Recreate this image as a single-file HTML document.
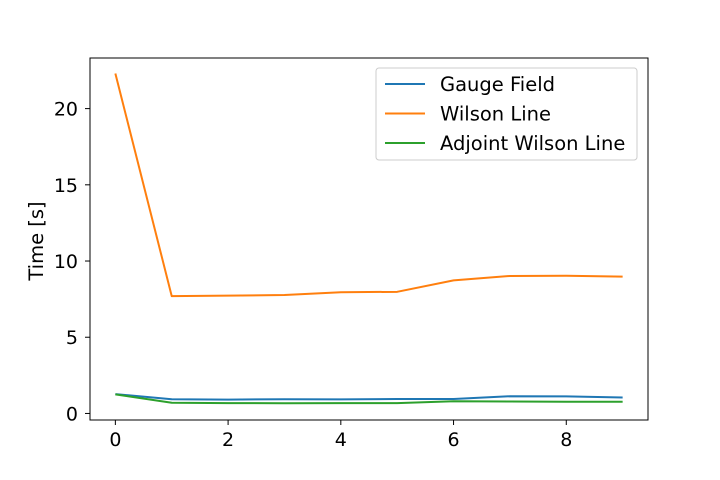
<!DOCTYPE html>
<html><head><meta charset="utf-8"><style>body{margin:0;background:#fff}svg{display:block;font-family:"DejaVu Sans","Liberation Sans",sans-serif}</style></head>
<body>
<svg id="chart" width="720" height="480">
<rect x="0" y="0" width="720" height="480" fill="#fff"/>
<g id="plot"></g>
</svg>
<script>
const xValues = [0,1,2,3,4,5,6,7,8,9];
const gaugeField = [1.27,0.93,0.91,0.93,0.92,0.95,0.95,1.13,1.12,1.05];
const wilsonLine = [22.3,7.7,7.73,7.77,7.95,7.98,8.73,9.02,9.03,8.98];
const adjointWilson = [1.25,0.7,0.68,0.67,0.68,0.68,0.8,0.78,0.77,0.77];
const xTicks = [0,2,4,6,8];
const yTicks = [0,5,10,15,20];
const seriesNames = ["Gauge Field","Wilson Line","Adjoint Wilson Line"];
const colors = ["#1f77b4","#ff7f0e","#2ca02c"];

const L=90,R=648,T=58,B=420;
const xMin=-0.45,xMax=9.45,yMin=-0.43,yMax=23.32;
const sx=v=>L+(v-xMin)/(xMax-xMin)*(R-L);
const sy=v=>B-(v-yMin)/(yMax-yMin)*(B-T);
const NS="http://www.w3.org/2000/svg";
const g=document.getElementById('plot');
function mk(tag,attrs,parent){const e=document.createElementNS(NS,tag);for(const k in attrs)e.setAttribute(k,attrs[k]);(parent||g).appendChild(e);return e;}

[gaugeField,wilsonLine,adjointWilson].forEach((s,i)=>{
  const p=mk('polyline',{points:s.map((v,j)=>sx(xValues[j])+','+sy(v)).join(' '),fill:'none',stroke:colors[i],'stroke-width':2,'stroke-linejoin':'round'});
  
  
});
const frame=mk('rect',{x:L,y:T,width:R-L,height:B-T,fill:'none',stroke:'#000','stroke-width':1});


xTicks.forEach(v=>{
  mk('line',{x1:sx(v),x2:sx(v),y1:B,y2:B+5,stroke:'#000'});
  const t=mk('text',{x:sx(v),y:B+26,'text-anchor':'middle','font-size':19});
  t.textContent=v;
  
  
});
yTicks.forEach(v=>{
  mk('line',{x1:L-5,x2:L,y1:sy(v),y2:sy(v),stroke:'#000'});
  const t=mk('text',{x:L-12,y:sy(v)+7,'text-anchor':'end','font-size':19});
  t.textContent=v;
  
  
});
const yt=mk('text',{x:43,y:241,'text-anchor':'middle','font-size':19.5,transform:'rotate(-90 43 241)'});
yt.textContent='Time [s]';



const lg=mk('g',{});


mk('rect',{x:376,y:68,width:261,height:92,rx:3,fill:'#fff',stroke:'#ccc','fill-opacity':0.8},lg);
seriesNames.forEach((n,i)=>{
  const y=84+i*29.5;
  const e=mk('g',{},lg);
  
  
  mk('line',{x1:385,x2:425,y1:y,y2:y,stroke:colors[i],'stroke-width':2},e);
  const t=mk('text',{x:440,y:y+7,'font-size':19.5},e);
  t.textContent=n;
});
</script>
</body></html>
